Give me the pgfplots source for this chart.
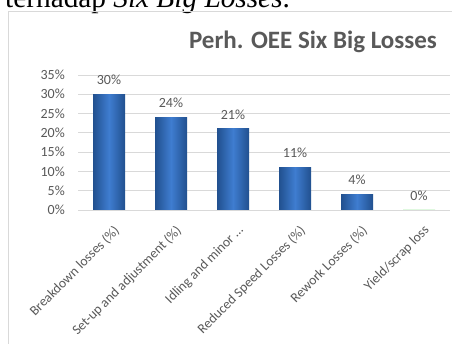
\documentclass[border=0pt]{standalone}
\usepackage{pgfplots}
\pgfplotsset{compat=1.18}
\usepackage{fontspec}
\setmainfont{Carlito}
\newfontfamily\seriffont{Liberation Serif}
\definecolor{txt}{HTML}{595959}
\definecolor{gridc}{HTML}{D9D9D9}
\definecolor{barmid}{HTML}{3F7DD0}
\definecolor{bardark}{HTML}{21508F}
\begin{document}
\begin{tikzpicture}[x=1pt,y=1pt]
\path[use as bounding box, clip] (0,0) rectangle (452,344);
\fill[white] (0,0) rectangle (452,344);
\node[anchor=base west, inner sep=0, font=\seriffont\fontsize{29.3}{31}\selectfont] at (5,336.5) {terhadap \textit{Six Big Losses}.};
\draw[gridc, line width=1pt] (8,-5) -- (8,332) -- (460,332);
\node[font=\bfseries\fontsize{25}{28}\selectfont, text=txt] at (313,302) {Perh. OEE Six Big Losses};
\begin{axis}[
  at={(78pt,134pt)}, anchor=south west,
  scale only axis, width=372pt, height=135pt,
  xmin=-0.5, xmax=5.5, ymin=0, ymax=35,
  ytick={0,5,...,35}, yticklabel={\pgfmathprintnumber{\tick}\%},
  ymajorgrids, grid style={gridc, line width=0.9pt},
  axis line style={draw=none},
  major tick length=0pt,
  xtick={0,1,2,3,4,5},
  xticklabels={Breakdown losses (\%), Set-up and adjustment (\%), Idling and minor …, Reduced Speed Losses (\%), Rework Losses (\%), Yield/scrap loss},
  x tick label style={xshift=4pt, yshift=-14pt, rotate=45, anchor=north east, inner sep=0pt, font=\fontsize{13.7}{16}\selectfont, text=txt},
  y tick label style={font=\fontsize{14}{16}\selectfont, text=txt, inner sep=0pt, xshift=-13pt},
  /pgf/number format/assume math mode=true,
  ybar, bar width=32pt, bar shift=0pt,
  every axis plot/.append style={draw=none, shade, shading angle=0, left color=bardark, right color=bardark, middle color=barmid},
  nodes near coords={\pgfmathprintnumber{\pgfplotspointmeta}\%},
  nodes near coords style={font=\fontsize{14}{16}\selectfont, text=txt, yshift=6pt},
  enlargelimits=false, clip=false
]
\addplot coordinates {(0,30)};
\addplot coordinates {(1,24)};
\addplot coordinates {(2,21)};
\addplot coordinates {(3,11)};
\addplot coordinates {(4,4)};
\addplot coordinates {(5,0)};
\end{axis}
\end{tikzpicture}
\end{document}
